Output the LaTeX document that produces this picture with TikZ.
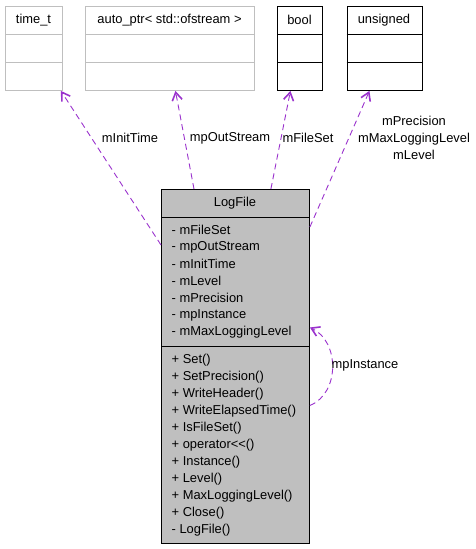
\documentclass[tikz,border=0pt]{standalone}
\usepackage{fontspec}
\setmainfont{Liberation Sans}
\usetikzlibrary{arrows.meta}
\definecolor{edgepurple}{HTML}{9A32CD}
\definecolor{boxgray}{HTML}{BFBFBF}
\begin{document}
\begin{tikzpicture}[x=1pt,y=-1pt,
    font=\fontsize{12.9}{17}\selectfont,
    classbox/.style={draw=#1, line width=0.9pt, inner sep=0pt, anchor=north west, minimum height=84pt},
    member/.style={anchor=west, inner sep=0pt},
    edge/.style={draw=edgepurple, dashed, dash pattern=on 6pt off 4pt, line width=0.9pt,
        -{Straight Barb[length=8pt,width=10pt,line width=1.6pt]}}]
    \useasboundingbox (0,0) rectangle (476,549);
    % used classes
    \node[classbox=boxgray, minimum width=57pt] (timet) at (5,6) {};
    \node[classbox=boxgray, minimum width=169pt] (autoptr) at (85,6) {};
    \node[classbox=black, minimum width=45pt] (bool) at (277,6) {};
    \node[classbox=black, minimum width=75pt] (unsigned) at (346.5,6) {};
    \draw[boxgray, line width=0.9pt] (5,34) -- (62,34) (5,62) -- (62,62);
    \draw[boxgray, line width=0.9pt] (85,34) -- (254,34) (85,62) -- (254,62);
    \draw[line width=0.9pt] (277,34) -- (322,34) (277,62) -- (322,62);
    \draw[line width=0.9pt] (346.5,34) -- (421.5,34) (346.5,62) -- (421.5,62);
    \node (timetname) at (33.5,20) {time\_t};
    \node (autoptrname) at (169.5,20) {auto\_ptr< std::ofstream >};
    \node (boolname) at (299.5,20) {bool};
    \node (unsignedname) at (384,20) {unsigned};
    % the class itself
    \node[classbox=black, fill=boxgray, minimum width=148pt, minimum height=354pt] (logfile) at (161,189) {};
    \draw[line width=0.9pt] (161,217) -- (309,217) (161,346) -- (309,346);
    \node (logfilename) at (235,203) {LogFile};
    \foreach \m [count=\i from 0] in {mFileSet, mpOutStream, mInitTime, mLevel,
        mPrecision, mpInstance, mMaxLoggingLevel}
        \node[member] (attr\i) at (171.5,230+17*\i) {- \m};
    \foreach \m [count=\i from 0] in {+ Set(), + SetPrecision(), + WriteHeader(),
        + WriteElapsedTime(), + IsFileSet(), + operator<{}<(), + Instance(),
        + Level(), + MaxLoggingLevel(), + Close(), - LogFile()}
        \node[member] (meth\i) at (171.5,360+17*\i) {\m};
    % usage edges
    \draw[edge] ([yshift=-56pt]logfile.north west) -- ([xshift=-2pt]timet.south east);
    \draw[edge] ([xshift=33pt]logfile.north west) -- ([xshift=5.5pt]autoptr.south);
    \draw[edge] ([xshift=-39pt]logfile.north east) -- ([xshift=-9.5pt]bool.south);
    \draw[edge] ([yshift=-38pt]logfile.north east) -- ([xshift=-15pt]unsigned.south);
    \draw[edge] ([yshift=-39pt]logfile.east) .. controls +(30,-12) and +(30,14) .. ([yshift=39pt]logfile.east);
    \node (timetlabel) at (130,138) {mInitTime};
    \node (autoptrlabel) at (230,138) {mpOutStream};
    \node (boollabel) at (308,138) {mFileSet};
    \node[align=center] (unsignedlabel) at (414,138) {mPrecision\\mMaxLoggingLevel\\mLevel};
    \node (selflabel) at (365,365) {mpInstance};
\end{tikzpicture}
\end{document}
